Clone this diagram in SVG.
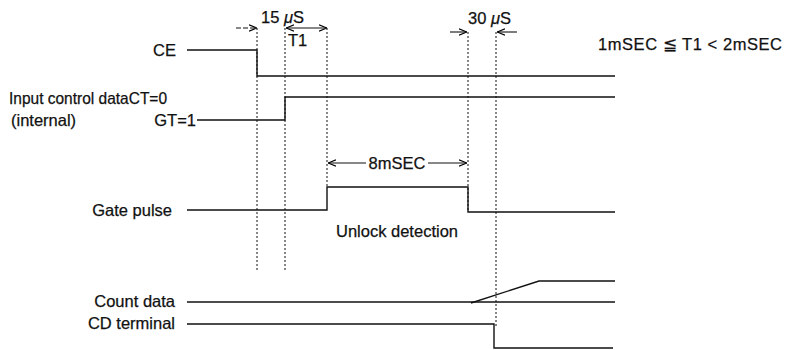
<svg xmlns="http://www.w3.org/2000/svg" width="788" height="350" viewBox="0 0 788 350">
<defs>
<marker id="ah" viewBox="0 0 10 10" refX="10" refY="5" markerWidth="8" markerHeight="8" markerUnits="userSpaceOnUse" orient="auto-start-reverse">
<path d="M0,1 L10,5 L0,9" fill="none" stroke="#000" stroke-width="1.4"/>
</marker>
</defs>
<style>
text{font-family:"Liberation Sans",Arial,sans-serif;font-size:16.5px;fill:#111;stroke:#111;stroke-width:0.25}
.r{text-anchor:end}
.m{text-anchor:middle}
.w{fill:none;stroke:#111;stroke-width:1.4}
.d{fill:none;stroke:#111;stroke-width:1;stroke-dasharray:2,2}
.a{fill:none;stroke:#111;stroke-width:1.1}
</style>
<rect width="788" height="350" fill="#fff"/>
<g id="ce">
<text class="r" x="176" y="56">CE</text>
<path class="w" d="M187,50 H257 V76 H615"/>
</g>
<g id="input-control">
<text x="9" y="104" textLength="158" lengthAdjust="spacingAndGlyphs">Input control dataCT=0</text>
<text x="11" y="126">(internal)</text>
<text class="r" x="196" y="126">GT=1</text>
<path class="w" d="M197,120 H285 V97 H615"/>
</g>
<g id="gate-pulse">
<text class="r" x="172" y="216">Gate pulse</text>
<path class="w" d="M187,210 H327 V187 H468 V212 H615"/>
<text x="336" y="237">Unlock detection</text>
</g>
<g id="count-data">
<text class="r" x="175" y="307">Count data</text>
<path class="w" d="M187,302 H615"/>
<path class="w" d="M471,303 L539,281 H615"/>
</g>
<g id="cd-terminal">
<text class="r" x="175" y="329">CD terminal</text>
<path class="w" d="M187,324 H494 V348 H613"/>
</g>
<g id="notes">
<text x="261" y="23">15 <tspan font-style="italic">μ</tspan>S</text>
<text x="288" y="46">T1</text>
<text x="468" y="24">30 <tspan font-style="italic">μ</tspan>S</text>
<text x="598" y="50" textLength="184" lengthAdjust="spacing">1mSEC ≦ T1 &lt; 2mSEC</text>
</g>
<g id="connectors">
<path class="d" d="M257,28 V270 M285,28 V270 M327,28 V187 M468,32 V212 M496,32 V326"/>
<path class="a" d="M236,28 H257" stroke-dasharray="5,2" marker-end="url(#ah)"/>
<path class="a" d="M286,28 H327" marker-start="url(#ah)" marker-end="url(#ah)"/>
<path class="a" d="M450,32 H467" marker-end="url(#ah)"/>
<path class="a" d="M517,32 H497" marker-end="url(#ah)"/>
<path class="a" d="M366,163 H328" marker-end="url(#ah)"/>
<path class="a" d="M428,163 H467" marker-end="url(#ah)"/>
<text class="m" x="397" y="169">8mSEC</text>
</g>
</svg>
